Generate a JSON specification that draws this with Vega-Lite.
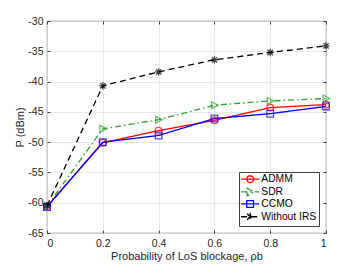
{
  "$schema": "https://vega.github.io/schema/vega-lite/v6.json",
  "width": 279,
  "height": 212,
  "autosize": "none",
  "padding": {"left": 47, "top": 21, "right": 34, "bottom": 37},
  "background": "white",
  "config": {
    "font": "Liberation Sans",
    "view": {"stroke": "#404040", "strokeWidth": 0.8},
    "axis": {
      "labelFont": "Liberation Sans",
      "titleFont": "Liberation Sans",
      "labelFontSize": 10.5,
      "titleFontSize": 11,
      "titleFontWeight": "normal",
      "labelColor": "#262626",
      "titleColor": "#262626",
      "gridColor": "#e3e3e3",
      "gridWidth": 0.8,
      "tickColor": "#404040",
      "domain": false
    },
    "legend": {
      "labelFont": "Liberation Sans",
      "labelFontSize": 10.3,
      "labelColor": "#000000",
      "strokeColor": "#404040",
      "fillColor": "white",
      "padding": 2,
      "rowPadding": -1.2,
      "symbolSize": 64,
      "symbolStrokeWidth": 1.3
    }
  },
  "data": {
    "values": [
      {"p": 0, "s": "ADMM", "v": -60.6},
      {"p": 0.2, "s": "ADMM", "v": -50.1},
      {"p": 0.4, "s": "ADMM", "v": -48.1},
      {"p": 0.6, "s": "ADMM", "v": -46.4},
      {"p": 0.8, "s": "ADMM", "v": -44.3},
      {"p": 1, "s": "ADMM", "v": -43.8},
      {"p": 0, "s": "SDR", "v": -60.6},
      {"p": 0.2, "s": "SDR", "v": -47.8},
      {"p": 0.4, "s": "SDR", "v": -46.3},
      {"p": 0.6, "s": "SDR", "v": -43.9},
      {"p": 0.8, "s": "SDR", "v": -43.2},
      {"p": 1, "s": "SDR", "v": -42.8},
      {"p": 0, "s": "CCMO", "v": -60.7},
      {"p": 0.2, "s": "CCMO", "v": -50.0},
      {"p": 0.4, "s": "CCMO", "v": -48.9},
      {"p": 0.6, "s": "CCMO", "v": -46.1},
      {"p": 0.8, "s": "CCMO", "v": -45.3},
      {"p": 1, "s": "CCMO", "v": -44.1},
      {"p": 0, "s": "Without IRS", "v": -60.5},
      {"p": 0.2, "s": "Without IRS", "v": -40.7},
      {"p": 0.4, "s": "Without IRS", "v": -38.4},
      {"p": 0.6, "s": "Without IRS", "v": -36.4},
      {"p": 0.8, "s": "Without IRS", "v": -35.2},
      {"p": 1, "s": "Without IRS", "v": -34.1}
    ]
  },
  "resolve": {"axis": {"x": "independent", "y": "independent"}},
  "layer": [
    {
      "mark": {"type": "line", "strokeWidth": 1.3, "clip": true},
      "encoding": {
        "x": {
          "field": "p", "type": "quantitative",
          "scale": {"domain": [0, 1], "nice": false, "zero": false},
          "axis": {"orient": "bottom", "values": [0, 0.2, 0.4, 0.6, 0.8, 1], "format": "~g", "grid": true, "tickSize": -3, "labelPadding": 8, "title": "Probability of LoS blockage, ρb", "titlePadding": 2}
        },
        "y": {
          "field": "v", "type": "quantitative",
          "scale": {"domain": [-65, -30], "nice": false, "zero": false},
          "axis": {"orient": "left", "values": [-65, -60, -55, -50, -45, -40, -35, -30], "labelExpr": "'' + datum.value", "grid": true, "tickSize": -3, "labelPadding": 7, "title": "P (dBm)", "titlePadding": 2}
        },
        "color": {
          "field": "s", "type": "nominal",
          "scale": {"domain": ["ADMM", "SDR", "CCMO", "Without IRS"], "range": ["#ff0000", "#2ca02c", "#0000ff", "#000000"]},
          "legend": {
            "title": null,
            "orient": "bottom-right",
            "offset": 7,
            "symbolOffset": 4,
            "labelOffset": 6,
            "encode": {
              "symbols": {
                "update": {
                  "shape": {"signal": "datum.value === 'ADMM' ? 'M-2.25,0L2.25,0M0.85,0A0.85,0.85,0,1,1,-0.85,0A0.85,0.85,0,1,1,0.85,0Z' : datum.value === 'SDR' ? 'M-2.25,0L2.25,0M-0.75,-0.95L1,0L-0.75,0.95Z' : datum.value === 'CCMO' ? 'M-2.25,0L2.25,0M-0.85,-0.85L0.85,-0.85L0.85,0.85L-0.85,0.85Z' : 'M-2.25,0L2.25,0M0,-1L0,1M-0.75,-0.75L0.75,0.75M-0.75,0.75L0.75,-0.75'"},
                  "fill": {"value": "transparent"},
                  "strokeDash": {"value": [1, 0]},
                  "strokeWidth": {"value": 1.3}
                }
              }
            }
          }
        },
        "strokeDash": {
          "field": "s", "type": "nominal",
          "scale": {"domain": ["ADMM", "SDR", "CCMO", "Without IRS"], "range": [[1, 0], [6, 3, 1.5, 3], [1, 0], [6, 4]]},
          "legend": null
        }
      }
    },
    {
      "transform": [{"filter": "datum.s === 'ADMM'"}],
      "mark": {"type": "point", "shape": "circle", "filled": false, "stroke": "#ff0000", "strokeWidth": 1.3, "size": 45, "clip": false},
      "encoding": {
        "x": {
          "field": "p", "type": "quantitative",
          "axis": {"orient": "top", "values": [0, 0.2, 0.4, 0.6, 0.8, 1], "labels": false, "grid": false, "tickSize": -3, "title": null}
        },
        "y": {
          "field": "v", "type": "quantitative",
          "axis": {"orient": "right", "values": [-65, -60, -55, -50, -45, -40, -35, -30], "labels": false, "grid": false, "tickSize": -3, "title": null}
        }
      }
    },
    {
      "transform": [{"filter": "datum.s === 'SDR'"}],
      "mark": {"type": "point", "shape": "M-0.75,-0.9L0.95,0L-0.75,0.9Z", "filled": false, "stroke": "#2ca02c", "strokeWidth": 1.3, "size": 60, "clip": false},
      "encoding": {
        "x": {"field": "p", "type": "quantitative", "axis": null},
        "y": {"field": "v", "type": "quantitative", "axis": null}
      }
    },
    {
      "transform": [{"filter": "datum.s === 'CCMO'"}],
      "mark": {"type": "point", "shape": "square", "filled": false, "stroke": "#0000ff", "strokeWidth": 1.3, "size": 45, "clip": false},
      "encoding": {
        "x": {"field": "p", "type": "quantitative", "axis": null},
        "y": {"field": "v", "type": "quantitative", "axis": null}
      }
    },
    {
      "transform": [{"filter": "datum.s === 'Without IRS'"}],
      "mark": {"type": "point", "shape": "M-1,0L1,0M0,-1L0,1M-0.72,-0.72L0.72,0.72M-0.72,0.72L0.72,-0.72", "filled": false, "stroke": "#000000", "strokeWidth": 1.3, "size": 55, "clip": false},
      "encoding": {
        "x": {"field": "p", "type": "quantitative", "axis": null},
        "y": {"field": "v", "type": "quantitative", "axis": null}
      }
    }
  ]
}
